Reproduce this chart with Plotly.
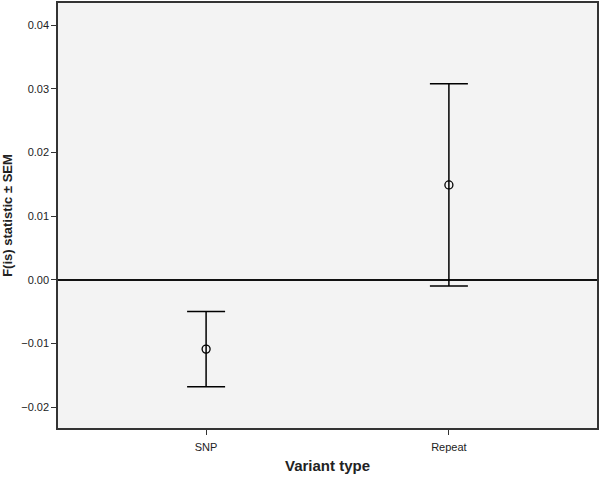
import plotly.graph_objects as go

# data
variant_types = ['SNP', 'Repeat']
fis_mean = [-0.0109, 0.0149]
fis_sem = [0.0059, 0.0159]

fig = go.Figure()
fig.add_trace(go.Scatter(
    x=variant_types, y=fis_mean,
    mode='markers',
    marker=dict(symbol='circle-open', size=8, color='black', line=dict(width=1.3)),
    error_y=dict(type='data', array=fis_sem, visible=True,
                 color='black', thickness=1.5, width=19),
    showlegend=False,
))

fig.update_layout(
    width=600, height=478,
    margin=dict(l=58, r=2, t=1, b=50),
    paper_bgcolor='white',
    plot_bgcolor='#f3f3f3',
    font=dict(family='Arial, Liberation Sans, sans-serif', color='#222', size=11),
)
fig.update_xaxes(
    range=[-0.61, 1.61],
    showline=True, mirror=True, linecolor='#333', linewidth=1.5,
    ticks='outside', ticklen=5, tickcolor='#333',
    ticklabelstandoff=3,
    showgrid=False,
    title=dict(text='<b>Variant type</b>', font=dict(size=15), standoff=9),
)
fig.update_yaxes(
    range=[-0.0233, 0.0435],
    tickvals=[-0.02, -0.01, 0.0, 0.01, 0.02, 0.03, 0.04],
    tickformat='.2f',
    showline=True, mirror=True, linecolor='#333', linewidth=1.5,
    ticks='outside', ticklen=5, tickcolor='#333',
    showgrid=False,
    zeroline=True, zerolinecolor='#111', zerolinewidth=1.5,
    title=dict(text='<b>F(is) statistic ± SEM</b>', font=dict(size=13), standoff=9),
)

# the page body has a default 8px margin; drop it so the 600x478 figure fits the window
fig.write_html("out.html", config={'displayModeBar': False},
               post_script="document.body.style.margin='0';document.body.style.overflow='hidden';")
